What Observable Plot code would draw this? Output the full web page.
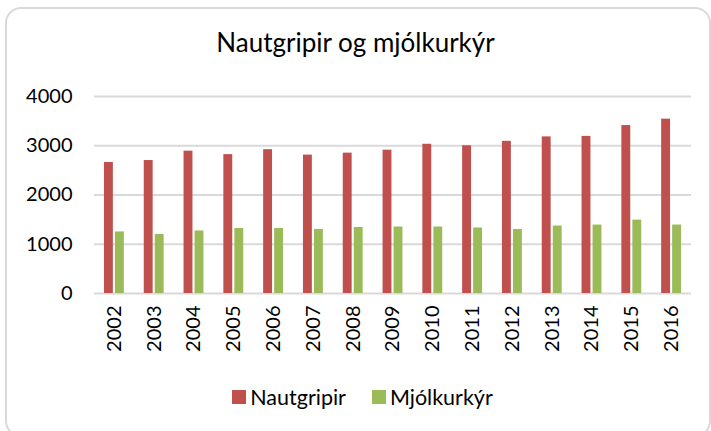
<!DOCTYPE html>
<html>
<head>
<meta charset="utf-8">
<script src="https://cdn.jsdelivr.net/npm/d3@7"></script>
<script src="https://cdn.jsdelivr.net/npm/@observablehq/plot@0.6"></script>
<style>
  html, body { margin: 0; padding: 0; background: #fff; overflow: hidden; }
  #frame { position: absolute; left: 5px; top: 7px; width: 706px; height: 430px; box-sizing: border-box;
           border: 2px solid #d9d9d9; border-radius: 16px; }
  #title { position: absolute; left: 0; width: 711px; top: 26px; text-align: center;
           font-family: Lato, sans-serif; font-size: 26px; color: #000; }
  #chart { position: absolute; left: 0; top: 70px; }
  #legend { position: absolute; left: 0; width: 711px; top: 384px; display: flex; justify-content: center;
            font-family: Lato, sans-serif; font-size: 21.5px; color: #000; gap: 26px; padding-left: 14px; box-sizing: border-box; }
  .item { display: flex; align-items: center; gap: 4px; }
  .sw { width: 14px; height: 14px; display: inline-block; }
</style>
</head>
<body>
<div id="frame"></div>
<div id="title">Nautgripir og mjólkurkýr</div>
<div id="chart"></div>
<div id="legend"></div>
<script>
const years = ["2002","2003","2004","2005","2006","2007","2008","2009","2010","2011","2012","2013","2014","2015","2016"];
const nautgripir = [2660,2700,2890,2820,2920,2810,2850,2910,3030,3000,3090,3180,3190,3410,3540];
const mjolkurkyr = [1250,1200,1270,1320,1320,1300,1340,1350,1350,1330,1300,1370,1390,1490,1390];
const yTicks = [0,1000,2000,3000,4000];
const seriesNames = ["Nautgripir","Mjólkurkýr"];
const colors = ["#C0504D","#9BBB59"];

const rows = [];
years.forEach((y,i) => {
  rows.push({year: y, series: seriesNames[0], value: nautgripir[i]});
  rows.push({year: y, series: seriesNames[1], value: mjolkurkyr[i]});
});

const chart = Plot.plot({
  width: 711,
  height: 300,
  marginTop: 26,
  marginBottom: 77,
  marginLeft: 94,
  marginRight: 20,
  style: {fontFamily: "Lato, sans-serif", fontSize: "20px", color: "#000", background: "transparent"},
  x: {domain: years, paddingInner: 0.5, paddingOuter: 0.25, round: false, label: null},
  y: {domain: [0,4000], label: null},
  color: {domain: seriesNames, range: colors},
  marks: [
    Plot.gridY(yTicks, {stroke: "#d9d9d9", strokeOpacity: 1, strokeWidth: 2}),
    Plot.barY(rows.filter(d => d.series === seriesNames[0]), {x: "year", y: "value", fill: "series", insetRight: 11}),
    Plot.barY(rows.filter(d => d.series === seriesNames[1]), {x: "year", y: "value", fill: "series", insetLeft: 11}),
    Plot.axisY({ticks: yTicks, tickFormat: d => String(d), tickSize: 0, tickPadding: 22, label: null, fontSize: 20}),
    Plot.axisX({tickRotate: -90, tickSize: 0, tickPadding: 12, label: null, fontSize: 20})
  ]
});
document.getElementById("chart").appendChild(chart);

const legend = document.getElementById("legend");
seriesNames.forEach((n,i) => {
  const it = document.createElement("div");
  it.className = "item";
  const sw = document.createElement("span");
  sw.className = "sw";
  sw.style.background = colors[i];
  const t = document.createElement("span");
  t.textContent = n;
  it.appendChild(sw); it.appendChild(t);
  legend.appendChild(it);
});
</script>
</body>
</html>
